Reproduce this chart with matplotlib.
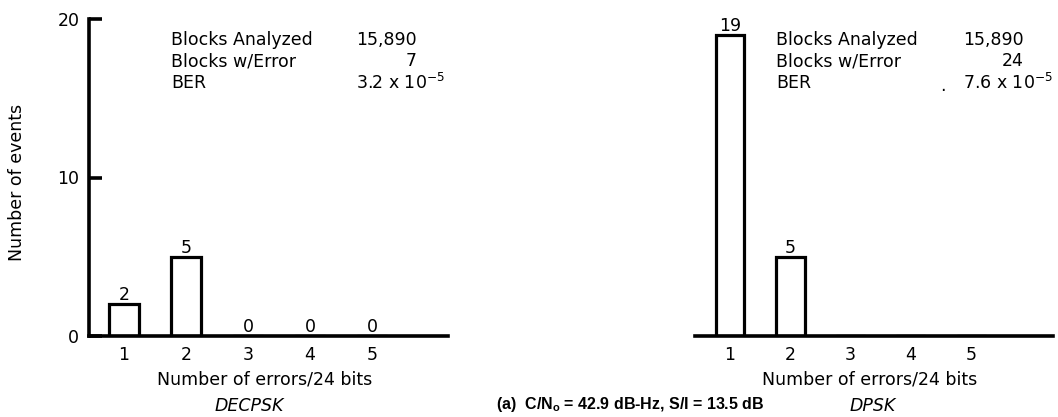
import matplotlib.pyplot as plt

# Error-count histograms for the two modulation schemes
errors_per_word = [1, 2, 3, 4, 5]
decpsk_events = [2, 5, 0, 0, 0]
dpsk_events = [19, 5, 0, 0, 0]
y_ticks = [0, 10, 20]

stats_labels = ["Blocks Analyzed", "Blocks w/Error", "BER"]
decpsk_stats = ["15,890", "7", r"3.2 x 10$^{\mathregular{-5}}$"]
dpsk_stats = ["15,890", "24", r"7.6 x 10$^{\mathregular{-5}}$"]

x_label = "Number of errors/24 bits"
y_label = "Number of events"
decpsk_name = "DECPSK"
dpsk_name = "DPSK"
caption = r"(a)  C/N$_{\mathbf{o}}$ = 42.9 dB-Hz, S/I = 13.5 dB"

plt.rcParams["font.family"] = ["DejaVu Sans"]
plt.rcParams["mathtext.fontset"] = "custom"
plt.rcParams["mathtext.rm"] = "DejaVu Sans"
plt.rcParams["mathtext.bf"] = "Liberation Sans:bold"

W, H = 1058, 417
fig = plt.figure(figsize=(W / 100, H / 100), dpi=100)
fig.patch.set_facecolor("white")

FS = 12.5
LW_AX = 2.6
LW_BAR = 2.3


def px(x0, y_top, x1, y_bot):
    return [x0 / W, 1 - y_bot / H, (x1 - x0) / W, (y_bot - y_top) / H]


def draw_hist(ax, values, xlim, label_zeros):
    ax.set_xlim(*xlim)
    ax.set_ylim(0, 20)
    ax.bar(errors_per_word, values, width=0.48, facecolor="none",
           edgecolor="black", linewidth=LW_BAR, zorder=3)
    for x, v in zip(errors_per_word, values):
        if v > 0 or label_zeros:
            ax.annotate(str(v), (x, v), xytext=(0, 0), textcoords="offset points",
                        ha="center", va="bottom", fontsize=FS)
    ax.set_xticks(errors_per_word)
    ax.set_xticklabels([str(e) for e in errors_per_word], fontsize=FS)
    ax.tick_params(axis="x", length=0, pad=7)
    for s in ("top", "right"):
        ax.spines[s].set_visible(False)
    ax.spines["bottom"].set_linewidth(LW_AX)
    ax.spines["left"].set_linewidth(LW_AX)
    ax.patch.set_alpha(0)


# Left panel: DECPSK
ax1 = fig.add_axes(px(89, 19, 448, 336))
draw_hist(ax1, decpsk_events, (0.435, 6.226), True)
ax1.set_yticks(y_ticks)
ax1.set_yticklabels([str(t) for t in y_ticks], fontsize=FS)
ax1.tick_params(axis="y", direction="in", length=9, width=LW_AX, pad=7)

# Right panel: DPSK
ax2 = fig.add_axes(px(695, 19, 1053, 336))
draw_hist(ax2, dpsk_events, (0.419, 6.36), False)
ax2.spines["left"].set_visible(False)
ax2.set_yticks([])

# Axis labels and names
fig.text(17 / W, 1 - 182 / H, y_label, rotation=90, ha="center", va="center", fontsize=FS)
fig.text(265 / W, 1 - 380 / H, x_label, ha="center", va="center", fontsize=FS)
fig.text(870 / W, 1 - 380 / H, x_label, ha="center", va="center", fontsize=FS)
fig.text(249 / W, 1 - 406 / H, decpsk_name, ha="center", va="center", fontsize=FS,
         style="italic")
fig.text(873 / W, 1 - 406 / H, dpsk_name, ha="center", va="center", fontsize=FS,
         style="italic")
fig.text(630 / W, 1 - 405 / H, caption, ha="center", va="center", fontsize=11.5,
         fontweight="bold", family=["Liberation Sans", "DejaVu Sans"])

# Statistics blocks
renderer = fig.canvas.get_renderer()
row_y = [40, 61, 83]


def stats_block(label_x, value_x, values):
    first = None
    for i, (lab, val) in enumerate(zip(stats_labels, values)):
        y = 1 - row_y[i] / H
        fig.text(label_x / W, y, lab, ha="left", va="center", fontsize=FS)
        if i == 1:
            bb = first.get_window_extent(renderer)
            fig.text(bb.x1 / W, y, val, ha="right", va="center", fontsize=FS)
        else:
            t = fig.text(value_x / W, y, val, ha="left", va="center", fontsize=FS)
            if i == 0:
                first = t


stats_block(171, 356, decpsk_stats)
stats_block(776, 963, dpsk_stats)
fig.text(943 / W, 1 - 86 / H, ".", ha="center", va="center", fontsize=FS)

fig.savefig("out.png", dpi=100, facecolor="white")
